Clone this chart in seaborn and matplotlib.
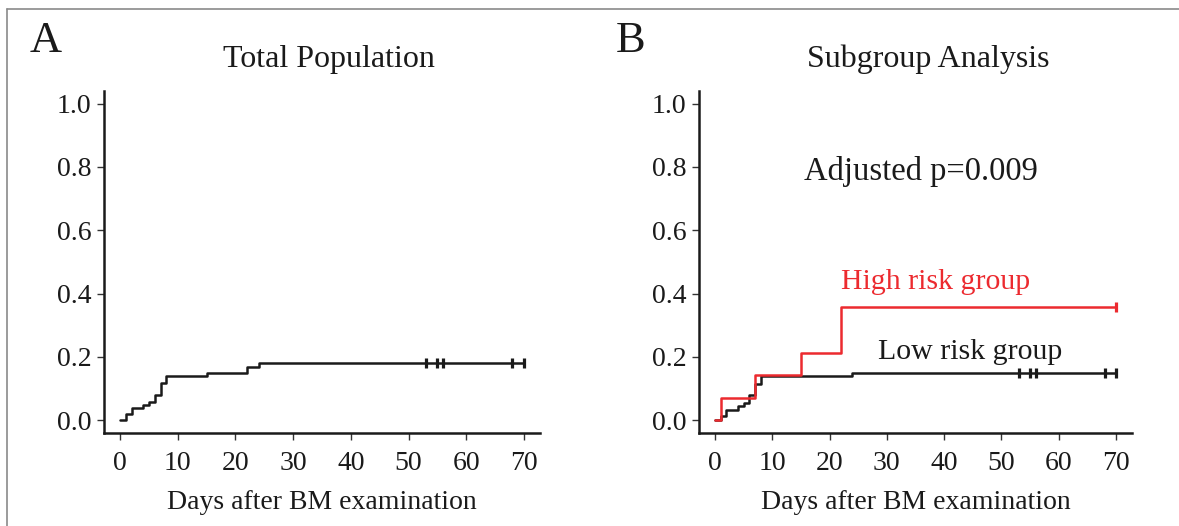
import matplotlib
matplotlib.use("Agg")
import matplotlib.pyplot as plt
import seaborn as sns
import pandas as pd
from matplotlib.lines import Line2D

# ---- data ----
total_days = [0, 1, 2, 4, 5, 6, 7, 8, 15, 22, 24, 70]
total_cuminc = [0, 0.019, 0.040, 0.047, 0.059, 0.079, 0.118, 0.139, 0.150, 0.169, 0.180, 0.180]
total_censor_days = [53, 55, 56, 68, 70]

high_days = [0, 1, 7, 15, 22, 70]
high_cuminc = [0, 0.071, 0.143, 0.214, 0.357, 0.357]
high_censor_days = [70]

low_days = [0, 1, 2, 4, 5, 6, 7, 8, 24, 70]
low_cuminc = [0, 0.014, 0.034, 0.044, 0.055, 0.080, 0.116, 0.139, 0.151, 0.151]
low_censor_days = [53, 55, 56, 68, 70]

x_ticks = [0, 10, 20, 30, 40, 50, 60, 70]
y_ticks = [0.0, 0.2, 0.4, 0.6, 0.8, 1.0]
y_tick_labels = ["0.0", "0.2", "0.4", "0.6", "0.8", "1.0"]

RED = "#ec2a2f"
BLACK = "#1a1a1a"

sns.set_style("ticks")
plt.rcParams["font.family"] = ["Liberation Serif", "DejaVu Serif"]

W, H = 1179, 526
fig = plt.figure(figsize=(W / 100, H / 100), dpi=100)


def px_axes(left, top, right, bottom):
    return fig.add_axes([left / W, 1 - bottom / H, (right - left) / W, (bottom - top) / H])


axA = px_axes(104, 91, 540, 433)
axB = px_axes(699, 91, 1132, 433)


def step(ax, days, vals, color):
    df = pd.DataFrame({"day": days, "val": vals})
    sns.lineplot(data=df, x="day", y="val", ax=ax, drawstyle="steps-post",
                 estimator=None, sort=False, color=color, linewidth=1.8)


def censor(ax, days, days_all, vals_all, color):
    ys = []
    for d in days:
        v = 0
        for t, c in zip(days_all, vals_all):
            if t <= d:
                v = c
        ys.append(v)
    sns.scatterplot(x=days, y=ys, ax=ax, marker="|", s=42, linewidth=2.3,
                    color=color, zorder=5)


step(axA, total_days, total_cuminc, BLACK)
censor(axA, total_censor_days, total_days, total_cuminc, BLACK)

step(axB, low_days, low_cuminc, BLACK)
censor(axB, low_censor_days, low_days, low_cuminc, BLACK)
step(axB, high_days, high_cuminc, RED)
censor(axB, high_censor_days, high_days, high_cuminc, RED)

for ax in (axA, axB):
    ax.set_xlim(-2.8, 72.8)
    ax.set_ylim(-0.04, 1.04)
    ax.set_xticks(x_ticks)
    ax.set_xticklabels([str(t) for t in x_ticks])
    ax.set_yticks(y_ticks)
    ax.set_yticklabels(y_tick_labels)
    ax.tick_params(axis="both", labelsize=20, length=5, width=1.0, color="#333333",
                   direction="out", labelcolor="#1a1a1a")
    ax.tick_params(axis="y", pad=4)
    ax.tick_params(axis="x", pad=8)
    sns.despine(ax=ax)
    for s in ("left", "bottom"):
        ax.spines[s].set_linewidth(1.8)
        ax.spines[s].set_color("#1a1a1a")
    ax.set_ylabel("")
    ax.set_xlabel("Days after BM examination", fontsize=20, labelpad=10, color="#1a1a1a")
    ax.set_facecolor("white")

axA.text(0.515, 1.07, "Total Population", transform=axA.transAxes, ha="center",
         va="baseline", fontsize=23, color="#1a1a1a")
axB.text(0.53, 1.07, "Subgroup Analysis", transform=axB.transAxes, ha="center",
         va="baseline", fontsize=23, color="#1a1a1a")

fig.text(30 / W, 1 - 52 / H, "A", fontsize=32, ha="left", va="baseline", color="#1a1a1a")
fig.text(616 / W, 1 - 52 / H, "B", fontsize=32, ha="left", va="baseline", color="#1a1a1a")

axB.text(15.5, 0.76, "Adjusted p=0.009", fontsize=23.5, ha="left", va="baseline", color="#1a1a1a")
axB.text(22.0, 0.414, "High risk group", fontsize=21.5, ha="left", va="baseline", color=RED)
axB.text(28.4, 0.195, "Low risk group", fontsize=21.5, ha="left", va="baseline", color="#1a1a1a")

# thin grey frame around the figure (left and top visible)
fig.add_artist(Line2D([7 / W, 7 / W], [0, 1 - 9 / H], transform=fig.transFigure,
                      color="#8a8a8a", linewidth=1.2))
fig.add_artist(Line2D([7 / W, 1], [1 - 9 / H, 1 - 9 / H], transform=fig.transFigure,
                      color="#8a8a8a", linewidth=1.2))

fig.savefig("out.png", dpi=100, facecolor="white")
